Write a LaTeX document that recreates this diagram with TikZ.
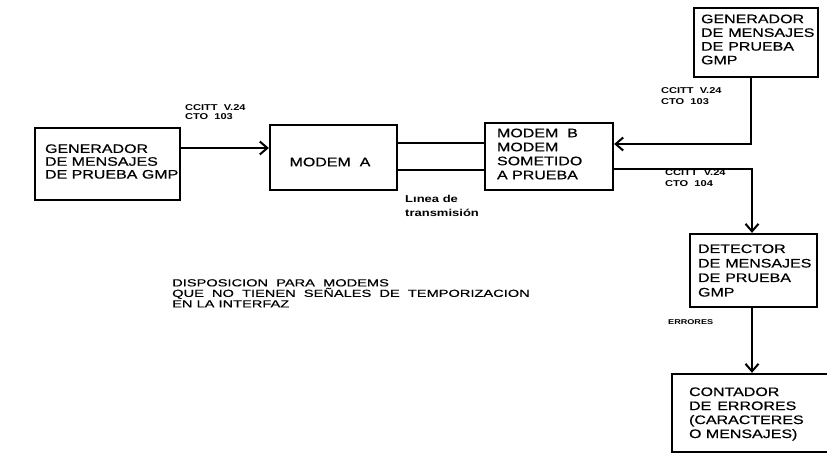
\documentclass[tikz,border=0pt]{standalone}
\usepackage{fontspec}
\setmainfont{Liberation Sans}
\usetikzlibrary{arrows.meta,calc}
\newfontfamily\boxfont[FakeStretch=1.3,FakeBold=0.6]{Liberation Sans}
\newfontfamily\labfont[FakeStretch=1.3]{Liberation Sans}
\newfontfamily\capfont[FakeStretch=1.42,FakeBold=0.4]{Liberation Sans}
\begin{document}
\begin{tikzpicture}[x=1pt,y=-1pt,
  blk/.style={draw, line width=2.3pt, rectangle, inner sep=0pt},
  txt/.style={font=\boxfont\fontsize{12.3}{14}\selectfont, align=left, inner sep=0pt, anchor=west},
  lab/.style={font=\labfont\bfseries\fontsize{8.5}{11}\selectfont, align=left, inner sep=0pt, anchor=west},
  conn/.style={line width=2pt},
  arr/.style={conn, -{Straight Barb[length=7.5pt,width=13pt]}},
]
\useasboundingbox (0,0) rectangle (827,464);
% boxes
\node[blk, minimum width=145pt, minimum height=72pt] (g1) at (107.5,164) {};
\node[blk, minimum width=127pt, minimum height=65pt] (ma) at (333.5,157.5) {};
\node[blk, minimum width=128pt, minimum height=67pt] (mb) at (549,156.5) {};
\node[blk, minimum width=124pt, minimum height=69pt] (g2) at (756,42.5) {};
\node[blk, minimum width=127pt, minimum height=73pt] (det) at (753.5,270.5) {};
\node[blk, minimum width=158pt, minimum height=78pt] (cnt) at (751,413) {};
% box texts
\node[txt, font=\boxfont\fontsize{12.3}{12.8}\selectfont] (g1t) at ([xshift=11pt,yshift=2.5pt]g1.west) {GENERADOR\\DE MENSAJES\\DE PRUEBA GMP};
\node[txt, anchor=center] (mat) at ([xshift=-3.5pt,yshift=-4.5pt]ma.center) {MODEM\ \ A};
\node[txt] (mbt) at ([xshift=13pt,yshift=2.5pt]mb.west) {MODEM\ \ B\\MODEM\\SOMETIDO\\A\ PRUEBA};
\node[txt, font=\boxfont\fontsize{12.3}{13.7}\selectfont] (g2t) at ([xshift=8pt,yshift=3pt]g2.west) {GENERADOR\\DE\hspace{5pt}MENSAJES\\DE\hspace{5pt}PRUEBA\\GMP};
\node[txt, font=\boxfont\fontsize{12.3}{14.5}\selectfont] (dett) at ([xshift=9pt]det.west) {DETECTOR\\DE\hspace{5pt}MENSAJES\\DE\hspace{5pt}PRUEBA\\GMP};
\node[txt] (cntt) at ([xshift=18pt,yshift=-1pt]cnt.west) {CONTADOR\\DE\hspace{6pt}ERRORES\\(CARACTERES\\O MENSAJES)};
% connectors
\draw[arr] ([yshift=16pt]g1.east) -- ([yshift=16pt]g1.east -| ma.west);
\draw[conn] ([yshift=14.5pt]ma.east) -- ([yshift=14.5pt]ma.east -| mb.west);
\draw[conn] ([yshift=-12.5pt]ma.east) -- ([yshift=-12.5pt]ma.east -| mb.west);
\draw[arr] ([xshift=-5pt]g2.south) |- ([yshift=12.5pt]mb.east);
\draw[arr] ([yshift=-12pt]mb.east) -| ([xshift=-1.5pt]det.north);
\draw[arr] ([xshift=-1.5pt]det.south) -- ([xshift=-1.5pt]det.south |- cnt.north);
% labels
\node[lab, font=\labfont\bfseries\fontsize{8.5}{9.5}\selectfont] (l1) at (185,112) {CCITT\ \ V.24\\CTO\ \ 103};
\node[lab] (l2) at (661,96) {CCITT\ \ V.24\\CTO\ \ 103};
\node[lab] (l3) at (665,178) {CCITT\ \ V.24\\CTO\ \ 104};
\node[lab, font=\labfont\bfseries\fontsize{10}{14}\selectfont] (lt) at (405,206) {L\i nea\ de\\transmisi\'on};
\node[lab, font=\labfont\bfseries\fontsize{7}{8}\selectfont] (err) at (668,322) {ERRORES};
\node[lab, anchor=north west, font=\capfont\fontsize{10.3}{10.5}\selectfont] (cap) at (172,279) {DISPOSICION\ \ PARA\ \ MODEMS\\QUE\ \ NO\ \ TIENEN\ \ SE\~NALES\ \ DE\ \ TEMPORIZACION\\EN\ LA\ INTERFAZ};
\end{tikzpicture}
\end{document}
